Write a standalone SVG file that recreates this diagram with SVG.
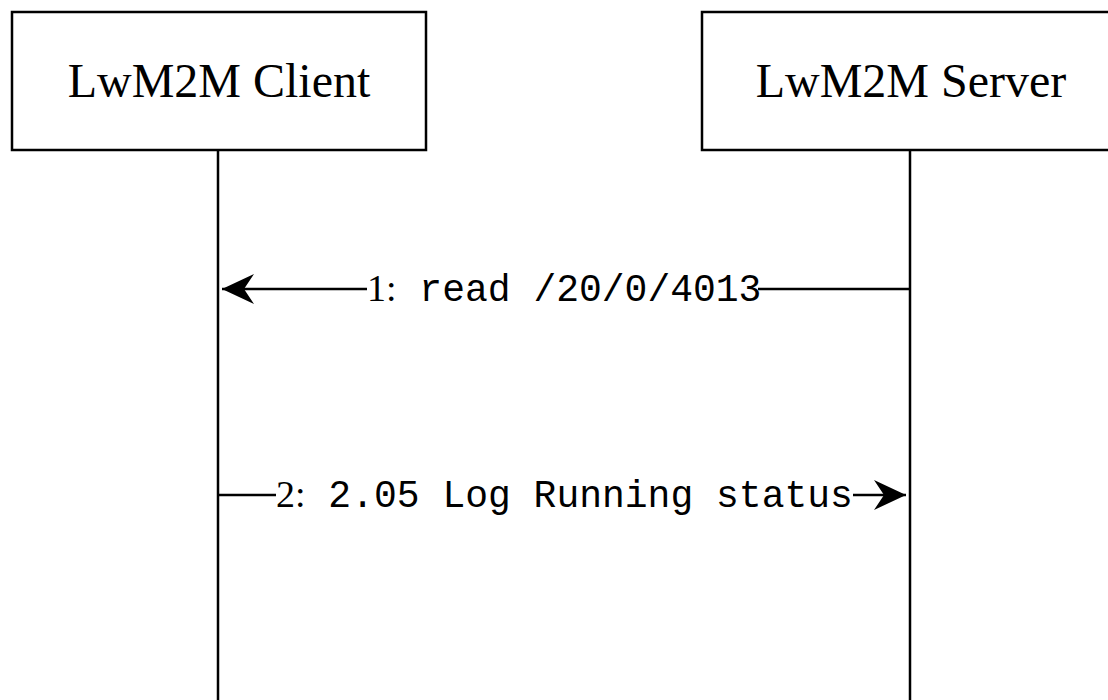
<svg xmlns="http://www.w3.org/2000/svg" width="1108" height="700" viewBox="0 0 1108 700">
<style>
.box{fill:#fff;stroke:#000;stroke-width:2.5}
.line{stroke:#000;stroke-width:2.5;fill:none}
.title{font-family:"Liberation Serif",serif;font-size:48px;fill:#000;text-anchor:middle}
.lbl{font-size:38px;fill:#000}
.ser{font-family:"Liberation Serif",serif}
.mono{font-family:"Liberation Mono",monospace}
</style>
<defs>
<marker id="ah" viewBox="0 0 32 30" refX="32" refY="15" markerWidth="32" markerHeight="30" markerUnits="userSpaceOnUse" orient="auto">
<path d="M32,15 L0,0 L10,15 L0,30 Z" fill="#000"/>
</marker>
</defs>
<rect width="1108" height="700" fill="#fff"/>
<g id="client">
<rect class="box" x="12" y="12" width="414" height="138"/>
<text class="title" x="219" y="97">LwM2M Client</text>
<line class="line" x1="218" y1="150" x2="218" y2="700"/>
</g>
<g id="server">
<rect class="box" x="702" y="12" width="414" height="138"/>
<text class="title" x="911" y="97">LwM2M Server</text>
<line class="line" x1="910" y1="150" x2="910" y2="700"/>
</g>
<g id="connectors">
<g id="msg1">
<line class="line" x1="910" y1="289" x2="758" y2="289"/>
<line class="line" x1="367" y1="289" x2="222" y2="289" marker-end="url(#ah)"/>
<text class="lbl" x="367" y="301"><tspan class="ser">1:</tspan><tspan class="mono"> read /20/0/4013</tspan></text>
</g>
<g id="msg2">
<line class="line" x1="218" y1="495" x2="276" y2="495"/>
<line class="line" x1="853" y1="495" x2="906" y2="495" marker-end="url(#ah)"/>
<text class="lbl" x="276" y="507"><tspan class="ser">2:</tspan><tspan class="mono"> 2.05 Log Running status</tspan></text>
</g>
</g>
</svg>
